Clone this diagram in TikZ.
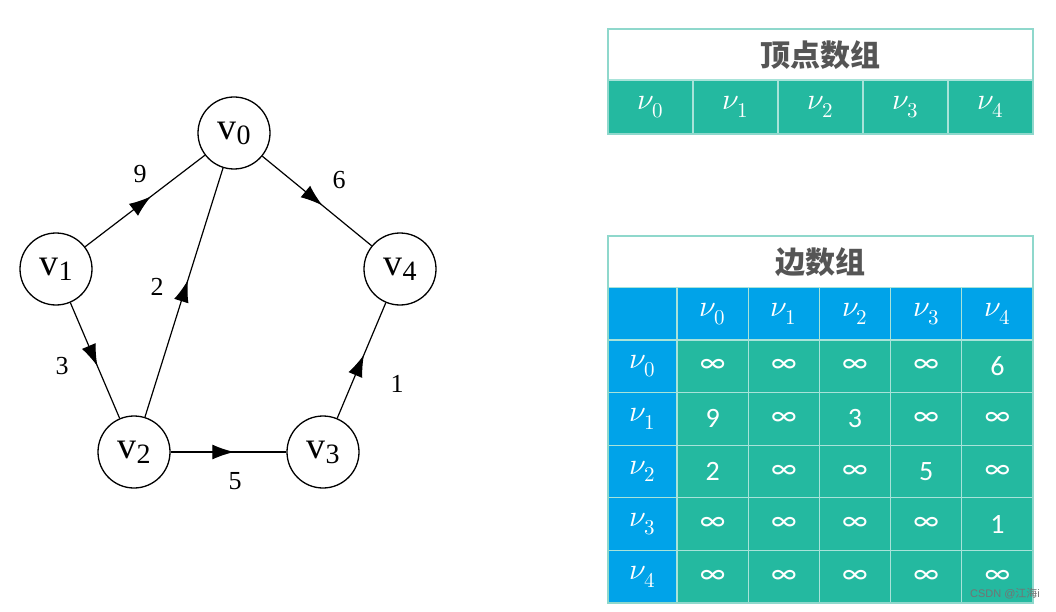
\documentclass[tikz,border=0pt]{standalone}
\usepackage{fontspec}
\usepackage{unicode-math}
\setmathfont{Latin Modern Math}
\setmainfont{Liberation Serif}
\newfontfamily\cjk{Noto Sans CJK SC}
\newfontfamily\numf{Carlito}
\newfontfamily\wmf{Liberation Sans}
\usetikzlibrary{arrows.meta,decorations.markings}
\definecolor{tealc}{HTML}{24B9A0}
\definecolor{bluec}{HTML}{00A3E9}
\definecolor{bordc}{HTML}{8FD8CC}
\definecolor{gridc}{HTML}{A8E3D9}
\definecolor{hdtext}{HTML}{555555}
\newcommand\vlab[1]{{\fontsize{38}{38}\selectfont v}\raisebox{-5pt}{\fontsize{28}{28}\selectfont #1}}
\newcommand\inft{{\fontsize{30}{30}\selectfont ∞}}
\newcommand\nv[1]{$\nu_{#1}$}
\begin{document}
\begin{tikzpicture}[x=1pt,y=-1pt,
  vert/.style={circle,draw,line width=1.3pt,minimum size=72pt,inner sep=0pt},
  edge/.style={line width=1.2pt,postaction={decorate},
    decoration={markings,mark=at position 0.55 with {\arrow{Latex[length=22pt,width=15pt]}}}},
  wlab/.style={font=\fontsize{26}{26}\selectfont},
  cellbase/.style={draw=gridc,line width=1.3pt,inner sep=0pt,text=white,
    font=\fontsize{30}{30}\selectfont},
  vcell/.style={cellbase,fill=tealc,minimum width=85pt,minimum height=54pt},
  hcell/.style={cellbase,fill=bluec,minimum width=71.2pt,minimum height=52.6pt},
  lcell/.style={cellbase,fill=bluec,minimum width=69pt,minimum height=52.6pt},
  dcell/.style={cellbase,fill=tealc,minimum width=71.2pt,minimum height=52.6pt,font=\fontsize{28}{28}\selectfont\numf},
  title/.style={draw=bordc,line width=1.5pt,fill=white,minimum width=425pt,minimum height=52pt,
    inner sep=0pt,text=hdtext,font=\fontsize{30}{30}\selectfont\cjk\bfseries}]
\useasboundingbox (0,0) rectangle (1056,612);
% graph
\node[vert] (v0) at (234,133) {\vlab{0}};
\node[vert] (v1) at (56,269) {\vlab{1}};
\node[vert] (v4) at (400,269) {\vlab{4}};
\node[vert] (v2) at (134,452) {\vlab{2}};
\node[vert] (v3) at (323,452) {\vlab{3}};
\draw[edge] (v1) -- (v0);
\draw[edge] (v0) -- (v4);
\draw[edge] (v2) -- (v0);
\draw[edge] (v1) -- (v2);
\draw[edge] (v2) -- (v3);
\draw[edge] (v3) -- (v4);
\node[wlab] (l9) at (140,174) {9};
\node[wlab] (l6) at (339,180) {6};
\node[wlab] (l2) at (157,287) {2};
\node[wlab] (l3) at (62,366) {3};
\node[wlab] (l1) at (397,384) {1};
\node[wlab] (l5) at (235,481) {5};
% vertex array
\node[title] (t1) at (820.5,55) {顶点数组};
\foreach \c in {0,...,4}{
  \node[vcell] (a\c) at ({650.5+85*\c},107) {\nv{\c}};
}
\draw[bordc,line width=1.5pt] (608,28.5) rectangle (1033,134);
% edge array
\node[title] (t2) at (820.5,262) {边数组};
\node[lcell] (h0) at (642.5,314) {};
\foreach \c in {0,...,4}{
  \node[hcell] (h\c-col) at ({712.6+71.2*\c},314) {\nv{\c}};
  \node[lcell] (r\c) at (642.5,{366.3+52.6*\c}) {\nv{\c}};
}
\foreach \v [count=\c from 0] in {\inft,\inft,\inft,\inft,6}
  \node[dcell] (m0-\c) at ({712.6+71.2*\c},366.3) {\v};
\foreach \v [count=\c from 0] in {9,\inft,3,\inft,\inft}
  \node[dcell] (m1-\c) at ({712.6+71.2*\c},418.9) {\v};
\foreach \v [count=\c from 0] in {2,\inft,\inft,5,\inft}
  \node[dcell] (m2-\c) at ({712.6+71.2*\c},471.5) {\v};
\foreach \v [count=\c from 0] in {\inft,\inft,\inft,\inft,1}
  \node[dcell] (m3-\c) at ({712.6+71.2*\c},524.1) {\v};
\foreach \v [count=\c from 0] in {\inft,\inft,\inft,\inft,\inft}
  \node[dcell] (m4-\c) at ({712.6+71.2*\c},576.7) {\v};
\draw[bordc,line width=1.5pt] (608,236) rectangle (1033,603);
\node[text=black!55,font=\fontsize{11}{11}\selectfont\wmf,inner sep=0pt] (wm) at (1005,594) {CSDN @{\cjk 江海}i};
\end{tikzpicture}
\end{document}
